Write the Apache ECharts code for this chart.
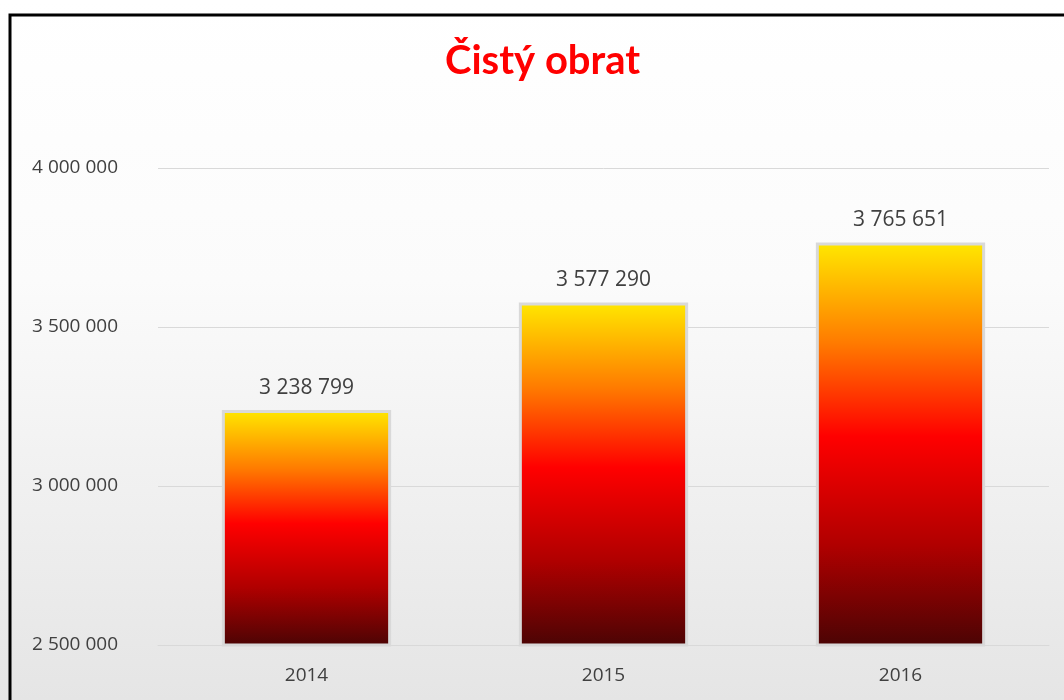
<!DOCTYPE html>
<html>
<head>
<meta charset="utf-8">
<script src="https://cdn.jsdelivr.net/npm/echarts@6/dist/echarts.min.js"></script>
<style>
  html, body { margin: 0; padding: 0; }
  #chart { width: 1064px; height: 700px; }
</style>
</head>
<body>
<div id="chart"></div>
<script>
// data
const years = ['2014', '2015', '2016']
const obrat = [3238799, 3577290, 3765651]

// 3 238 799 style
const fmt = v => String(Math.round(v)).replace(/\B(?=(\d{3})+(?!\d))/g, ' ')

const myChart = echarts.init(document.getElementById('chart'))
const option = {
  backgroundColor: new echarts.graphic.LinearGradient(0, 0, 0, 1, [
    { offset: 0, color: '#ffffff' },
    { offset: 0.4, color: '#fbfbfb' },
    { offset: 1, color: '#e5e5e5' }
  ]),
  title: {
    text: 'Čistý obrat',
    left: 440,
    top: 36,
    textStyle: {
      color: '#ff0000',
      fontSize: 40,
      fontWeight: 'bold',
      fontFamily: 'Lato'
    }
  },
  graphic: [{
    type: 'polyline',
    shape: { points: [[10, 700], [10, 15], [1064, 15]] },
    style: { stroke: '#000', lineWidth: 3, fill: null }
  }],
  grid: {
    left: 158,
    right: 15,
    top: 168,
    bottom: 55
  },
  xAxis: {
    type: 'category',
    data: years,
    axisTick: { show: false },
    axisLine: { lineStyle: { color: '#d9d9d9', width: 1 } },
    axisLabel: {
      color: '#404040',
      fontSize: 19,
      fontFamily: 'Open Sans',
      margin: 21
    }
  },
  yAxis: {
    type: 'value',
    min: 2500000,
    max: 4000000,
    interval: 500000,
    axisLine: { show: false },
    axisTick: { show: false },
    splitLine: { lineStyle: { color: '#d9d9d9', width: 1 } },
    axisLabel: {
      color: '#404040',
      fontSize: 19,
      fontFamily: 'Open Sans',
      margin: 40,
      formatter: v => fmt(v)
    }
  },
  series: [{
    type: 'bar',
    data: obrat,
    barWidth: '57%',
    itemStyle: {
      color: new echarts.graphic.LinearGradient(0, 0, 0, 1, [
        { offset: 0, color: '#ffe800' },
        { offset: 0.25, color: '#ff7a00' },
        { offset: 0.48, color: '#ff0000' },
        { offset: 0.75, color: '#b00000' },
        { offset: 1, color: '#4a0404' }
      ]),
      borderColor: '#d9d9d9',
      borderWidth: 3
    },
    label: {
      show: true,
      position: 'top',
      distance: 12,
      color: '#404040',
      fontSize: 21,
      fontFamily: 'Open Sans',
      formatter: p => fmt(p.value)
    }
  }]
}
myChart.setOption(option)
window.addEventListener('resize', () => { myChart.resize() })
</script>
</body>
</html>
